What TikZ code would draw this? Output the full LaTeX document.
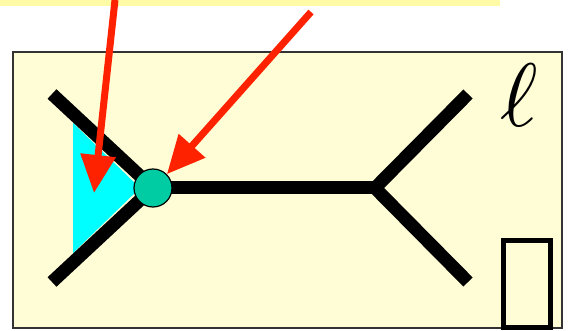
\documentclass[tikz,border=0pt]{standalone}
\usetikzlibrary{arrows.meta}
\definecolor{strip}{RGB}{255,250,165}
\definecolor{panel}{RGB}{255,253,214}
\definecolor{tealdot}{RGB}{0,204,163}
\definecolor{pointer}{RGB}{255,34,0}
\definecolor{sector}{RGB}{0,255,255}
\tikzset{
  edge/.style={line width=13pt, line cap=butt},
  pointerarrow/.style={pointer, line width=7pt, -{Triangle[length=38pt,width=34pt]}},
}
\begin{document}
\begin{tikzpicture}[x=1pt,y=-1pt]
\useasboundingbox (0,0) rectangle (573,331);
% banner strip and panel
\fill[strip] (0,0) rectangle (500,6);
\draw[fill=panel, draw=black!80, line width=1.5pt] (13,52) rectangle (562,328);
% named points of the graph
\coordinate (ul) at (52,94);
\coordinate (ll) at (52,282);
\coordinate (j) at (375,188);
\coordinate (ur) at (468,94);
\coordinate (lr) at (468,282);
\coordinate (v) at (153,188);
% shaded sector
\fill[sector] (73,123) -- (73,253) -- (140,188) -- cycle;
% edges
\draw[edge] (ul) -- (v) -- (ll);
\draw[edge] (v) -- (j);
\draw[edge] (ur) -- (j) -- (lr);
% vertex
\node[circle, draw=black, line width=1.2pt, fill=tealdot, minimum size=38pt, inner sep=0pt] (dot) at (v) {};
% label and box
\node[inner sep=0pt] (ell) at (519,95) {\scalebox{9}{$\ell$}};
\draw[line width=5pt] (503.5,240.5) rectangle (550.5,327.5);
% pointers
\coordinate (p1) at (115,0);
\coordinate (t1) at (94,193);
\coordinate (p2) at (311,12);
\draw[pointerarrow] (p1) -- (t1);
\draw[pointerarrow] (p2) -- (dot.north east);
\end{tikzpicture}
\end{document}
